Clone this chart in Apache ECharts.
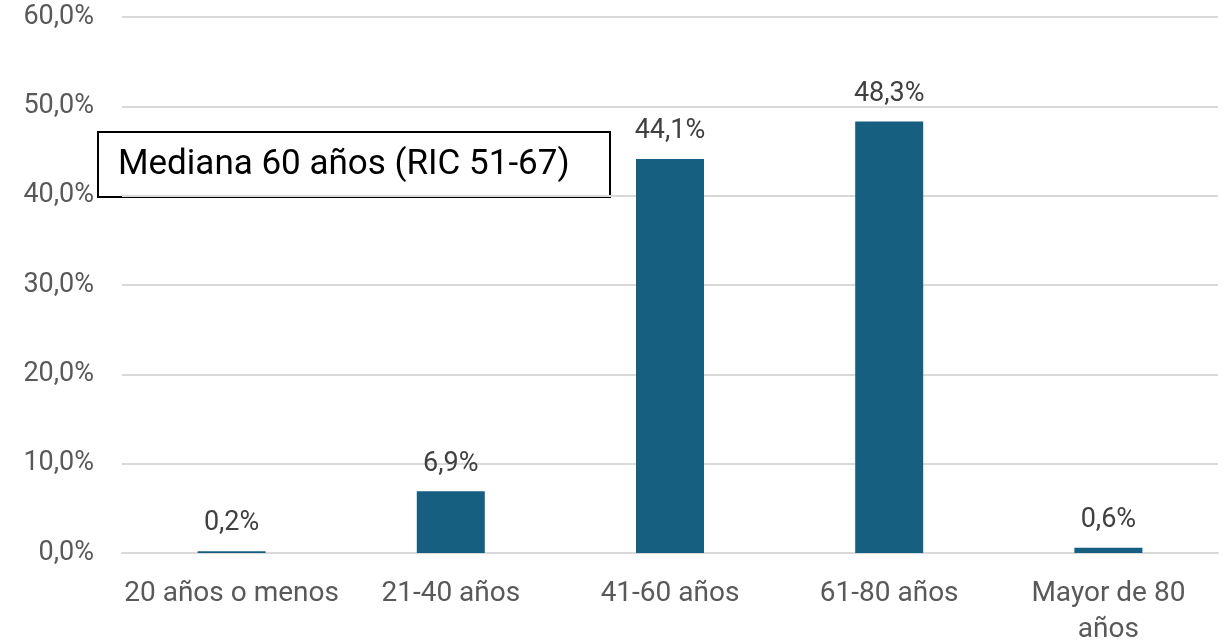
<!DOCTYPE html>
<html>
<head>
    <meta charset="utf-8">
    <script src="https://cdn.jsdelivr.net/npm/echarts@6/dist/echarts.min.js"></script>
    <style>
        body { margin: 0; background: #fff; }
    </style>
</head>
<body>
	<div id="main" style="width: 1227px; height: 643px;"></div>
	<script type="text/javascript">
		var categorias = ['20 años o menos', '21-40 años', '41-60 años', '61-80 años', 'Mayor de 80 años']
		var porcentajes = [0.2, 6.9, 44.1, 48.3, 0.6]
		var nota = 'Mediana 60 años (RIC 51-67)'

		function fmt(v) {
			return v.toFixed(1).replace('.', ',') + '%'
		}

		var myChart = echarts.init(document.getElementById('main'))
		var option = {
			animation: false,
			textStyle: { fontFamily: 'Roboto' },
			grid: { left: 122, right: 9, top: 17, bottom: 90, outerBoundsMode: 'none', containLabel: false },
			xAxis: {
				type: 'category',
				data: categorias,
				axisTick: { show: false },
				axisLine: { lineStyle: { color: '#d9d9d9', width: 2 } },
				axisLabel: {
					interval: 0,
					color: '#595959',
					fontSize: 28,
					margin: 23,
					lineHeight: 36,
					formatter: function (v) { return v.replace('de 80 ', 'de 80\n') }
				}
			},
			yAxis: {
				type: 'value',
				min: 0,
				max: 60,
				interval: 10,
				axisLine: { show: false },
				axisTick: { show: false },
				splitLine: { lineStyle: { color: '#d9d9d9', width: 2 } },
				axisLabel: {
					color: '#595959',
					fontSize: 27,
					margin: 28,
					formatter: function (v) { return fmt(v) }
				}
			},
			series: [{
				type: 'bar',
				data: porcentajes,
				barWidth: 68,
				itemStyle: { color: '#165f81' },
				label: {
					show: true,
					position: 'top',
					distance: 14,
					color: '#404040',
					fontSize: 27,
					formatter: function (p) { return fmt(p.value) }
				}
			}],
			graphic: [{
				type: 'group',
				left: 97,
				top: 131,
				children: [{
					type: 'rect',
					shape: { x: 0, y: 0, width: 512, height: 65 },
					style: { fill: '#fff', stroke: '#000', lineWidth: 2 }
				}, {
					type: 'text',
					x: 20,
					y: 33,
					style: {
						text: nota,
						fill: '#000',
						fontSize: 35,
						fontFamily: 'Roboto',
						verticalAlign: 'middle'
					}
				}]
			}]
		}
		myChart.setOption(option)
	</script>
</body>
</html>
